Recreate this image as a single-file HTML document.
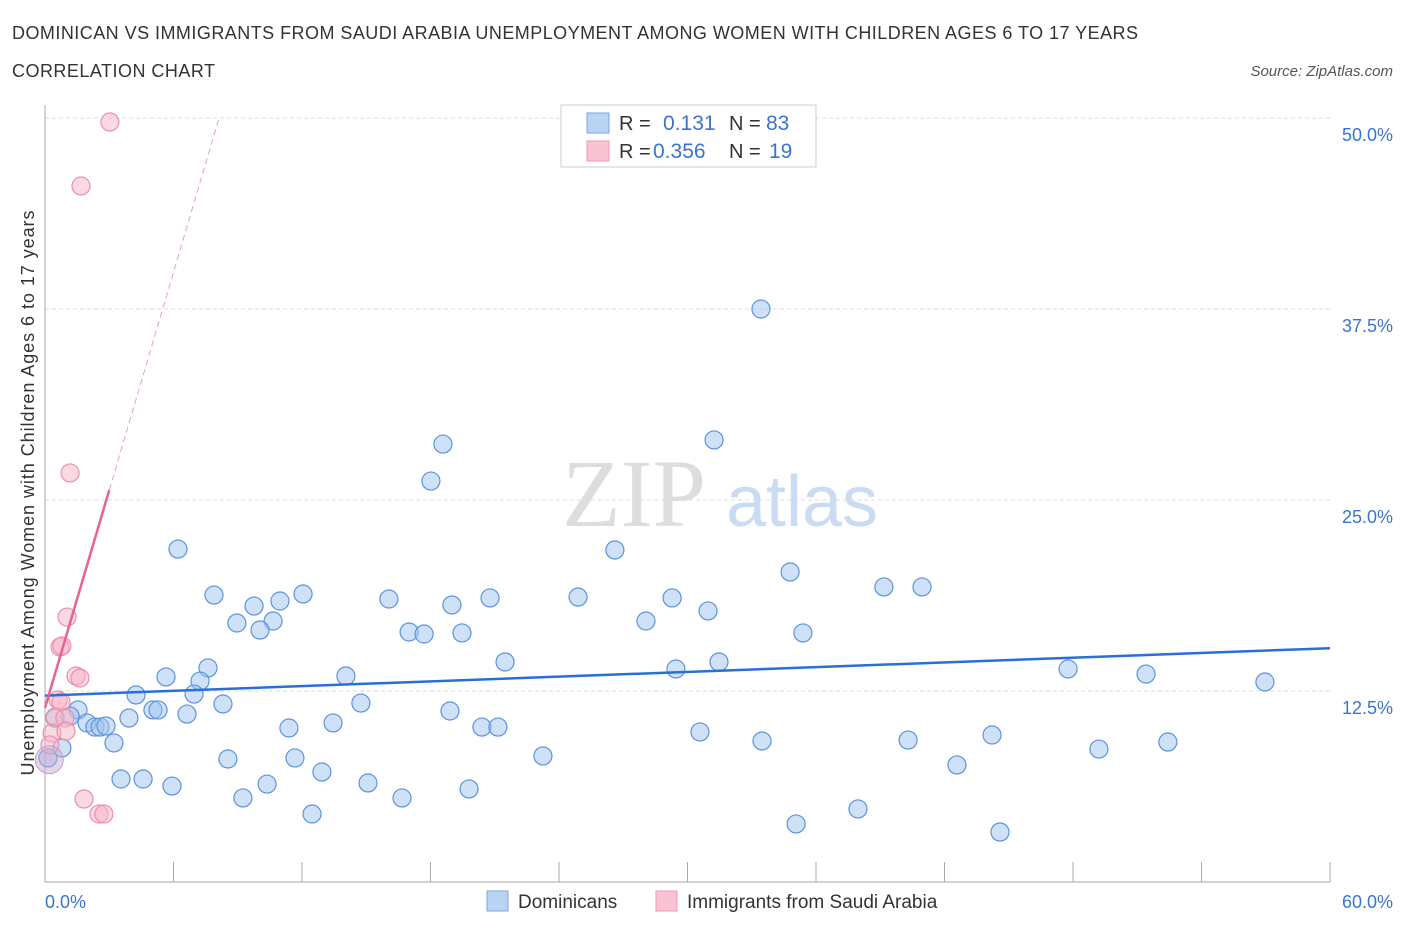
<!DOCTYPE html>
<html><head><meta charset="utf-8"><style>
body{margin:0;background:#fff;font-family:"Liberation Sans",sans-serif;}
svg text{font-family:"Liberation Sans",sans-serif;}
</style></head><body>
<svg id="chart" width="1406" height="930" xmlns="http://www.w3.org/2000/svg">
<text x="12" y="39" font-size="18" fill="#333" textLength="1126">DOMINICAN VS IMMIGRANTS FROM SAUDI ARABIA UNEMPLOYMENT AMONG WOMEN WITH CHILDREN AGES 6 TO 17 YEARS</text>
<text x="12" y="77" font-size="18" fill="#333" textLength="203">CORRELATION CHART</text>
<text x="1393" y="76" font-size="15" fill="#555" font-style="italic" text-anchor="end">Source: ZipAtlas.com</text>
<text x="634" y="526" font-size="96" fill="#ddd" text-anchor="middle" style="font-family:'Liberation Serif',serif">ZIP</text>
<text x="802" y="526" font-size="72" fill="#c9dcf3" text-anchor="middle">atlas</text>
<g id="grid"></g>
<g id="axes"></g>
<g id="marks"></g>
<text transform="translate(34,493) rotate(-90)" font-size="18" fill="#333" text-anchor="middle" textLength="565">Unemployment Among Women with Children Ages 6 to 17 years</text>
<text x="45" y="908" font-size="18" fill="#3a74d0">0.0%</text>
<text x="1393" y="908" font-size="18" fill="#3a74d0" text-anchor="end">60.0%</text>
<g>
<rect x="561" y="105" width="255" height="62" fill="#fff" stroke="#ccc"/>
<rect x="587" y="113" width="22" height="20" fill="#b9d3f5" stroke="#7ba6e3"/>
<rect x="587" y="141" width="22" height="20" fill="#f9c3d3" stroke="#ee9ab3"/>
<text x="619" y="130" font-size="20" fill="#333">R =</text>
<text x="663" y="130" font-size="21" fill="#3a74d0">0.131</text>
<text x="729" y="130" font-size="20" fill="#333">N =</text>
<text x="766" y="130" font-size="21" fill="#3a74d0">83</text>
<text x="619" y="158" font-size="20" fill="#333">R =</text>
<text x="653" y="158" font-size="21" fill="#3a74d0">0.356</text>
<text x="729" y="158" font-size="20" fill="#333">N =</text>
<text x="769" y="158" font-size="21" fill="#3a74d0">19</text>
</g>
<g>
<rect x="487" y="891" width="21" height="20" fill="#b9d3f5" stroke="#7ba6e3"/>
<text x="518" y="908" font-size="19" fill="#333">Dominicans</text>
<rect x="656" y="891" width="21" height="20" fill="#f9c3d3" stroke="#ee9ab3"/>
<text x="687" y="908" font-size="19" fill="#333">Immigrants from Saudi Arabia</text>
</g>
</svg>
<script>
const yTicks=[12.5,25,37.5,50];
const yTickLabels=["12.5%","25.0%","37.5%","50.0%"];
const xTicks=[0,6,12,18,24,30,36,42,48,54,60];
const bluePx=[[761,309],[443,444],[714,440],[431,481],[178,549],[615,550],[790,572],[884,587],[922,587],[214,595],[578,597],[490,598],[303,594],[389,599],[280,601],[254,606],[452,605],[672,598],[708,611],[237,623],[273,621],[646,621],[260,630],[409,632],[424,634],[462,633],[803,633],[208,668],[505,662],[719,662],[676,669],[1068,669],[1146,674],[1265,682],[166,677],[200,681],[346,676],[136,695],[194,694],[223,704],[361,703],[153,710],[158,710],[187,714],[129,718],[450,711],[333,723],[289,728],[482,727],[498,727],[700,732],[78,710],[70,716],[87,723],[95,727],[100,727],[106,726],[114,743],[62,748],[55,718],[908,740],[762,741],[992,735],[1099,749],[1168,742],[543,756],[228,759],[295,758],[957,765],[322,772],[121,779],[143,779],[172,786],[267,784],[368,783],[469,789],[243,798],[402,798],[312,814],[858,809],[796,824],[1000,832],[48,758]];
const pinkPx=[[110,122],[81,186],[70,473],[67,617],[60,647],[62,646],[76,676],[80,678],[58,700],[61,702],[55,717],[65,718],[52,733],[66,731],[50,745],[84,799],[99,814],[104,814]];
// data values (x %, y %)
const blueX=bluePx.map(p=>+((p[0]-45)/21.417).toFixed(2));
const blueY=bluePx.map(p=>+((882-p[1])/15.28).toFixed(2));
const pinkX=pinkPx.map(p=>+((p[0]-45)/21.417).toFixed(2));
const pinkY=pinkPx.map(p=>+((882-p[1])/15.28).toFixed(2));
const blueTrend=[12.2,15.3];
const pinkTrend=[11.4,4.75];
const X=v=>45+v*21.417, Y=v=>882-v*15.28;
const NS="http://www.w3.org/2000/svg";
function mk(tag,attrs,parent){const e=document.createElementNS(NS,tag);for(const k in attrs)e.setAttribute(k,attrs[k]);document.getElementById(parent).appendChild(e);return e;}
yTicks.forEach((t,i)=>{
 const l=mk('line',{x1:45,x2:1330,y1:Y(t),y2:Y(t),stroke:'#ddd','stroke-dasharray':'4,3'},'grid');
 
 
 const tx=mk('text',{x:1393,y:Y(t)+23,'font-size':18,fill:'#3a74d0','text-anchor':'end'},'grid');
 tx.textContent=yTickLabels[i];
 
 
});
const ax=mk('line',{x1:45,x2:45,y1:105,y2:882,stroke:'#aaa'},'axes');


const bx=mk('line',{x1:45,x2:1330,y1:882,y2:882,stroke:'#aaa'},'axes');


xTicks.forEach(t=>{const l=mk('line',{x1:X(t),x2:X(t),y1:862,y2:882,stroke:'#aaa'},'axes');
 
 });
blueX.forEach((x,i)=>{const c=mk('circle',{cx:X(x),cy:Y(blueY[i]),r:9,fill:'rgba(160,196,240,0.5)',stroke:'#5b93de','stroke-width':1.2},'marks');
 
 });
pinkX.forEach((x,i)=>{const c=mk('circle',{cx:X(x),cy:Y(pinkY[i]),r:9,fill:'rgba(248,180,200,0.5)',stroke:'#ec8faa','stroke-width':1.2},'marks');
 
 });
const big=mk('circle',{cx:X(0.2),cy:Y(8),r:14,fill:'rgba(200,170,210,0.5)',stroke:'#c9a0c8'},'marks');


const bt=mk('line',{x1:X(0),y1:Y(blueTrend[0]),x2:X(60),y2:Y(blueTrend[1]),stroke:'#2a6fd6','stroke-width':2.5},'marks');


const pEnd=3,pDash=(50-pinkTrend[0])/pinkTrend[1];
const pt=mk('line',{x1:X(0),y1:Y(pinkTrend[0]),x2:X(pEnd),y2:Y(pinkTrend[0]+pinkTrend[1]*pEnd),stroke:'#e8638d','stroke-width':2.5},'marks');


const pd=mk('line',{x1:X(pEnd),y1:Y(pinkTrend[0]+pinkTrend[1]*pEnd),x2:X(pDash),y2:Y(50),stroke:'#e8a0b8','stroke-width':1,'stroke-dasharray':'6,4'},'marks');


</script>
</body></html>
